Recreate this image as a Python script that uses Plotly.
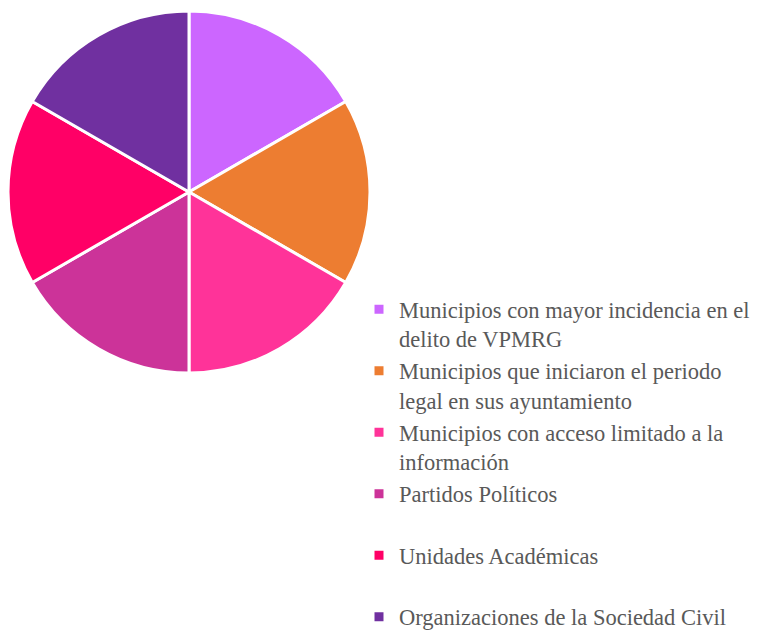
import plotly.graph_objects as go

labels = [
    "Municipios con mayor incidencia en el<br>delito de VPMRG",
    "Municipios que iniciaron el periodo<br>legal en sus ayuntamiento",
    "Municipios con acceso limitado a la<br>información",
    "Partidos Políticos<br>&nbsp;",
    "Unidades Académicas<br>&nbsp;",
    "Organizaciones de la Sociedad Civil",
]
values = [1, 1, 1, 1, 1, 1]
colors = ["#CC66FF", "#ED7D31", "#FF3399", "#CC3399", "#FF0066", "#7030A0"]

W, H = 759, 634
fig = go.Figure(go.Pie(
    labels=labels,
    values=values,
    marker=dict(colors=colors, line=dict(color="white", width=3)),
    sort=False,
    direction="clockwise",
    rotation=0,
    textinfo="none",
    hoverinfo="label",
    domain=dict(x=[0, 362/W], y=[1 - 365/H, 1 - 3/H]),
))

fig.update_layout(
    width=W, height=H,
    margin=dict(l=0, r=0, t=0, b=0, autoexpand=False),
    paper_bgcolor="white",
    plot_bgcolor="white",
    showlegend=True,
    legend=dict(
        x=351/W, y=1 - 280/H, xanchor="left", yanchor="top",
        font=dict(family="Liberation Serif, Times New Roman, serif", size=22.5, color="#595959"),
        valign="top",
        itemwidth=30,
    ),
)

fig.write_html("out.html")
